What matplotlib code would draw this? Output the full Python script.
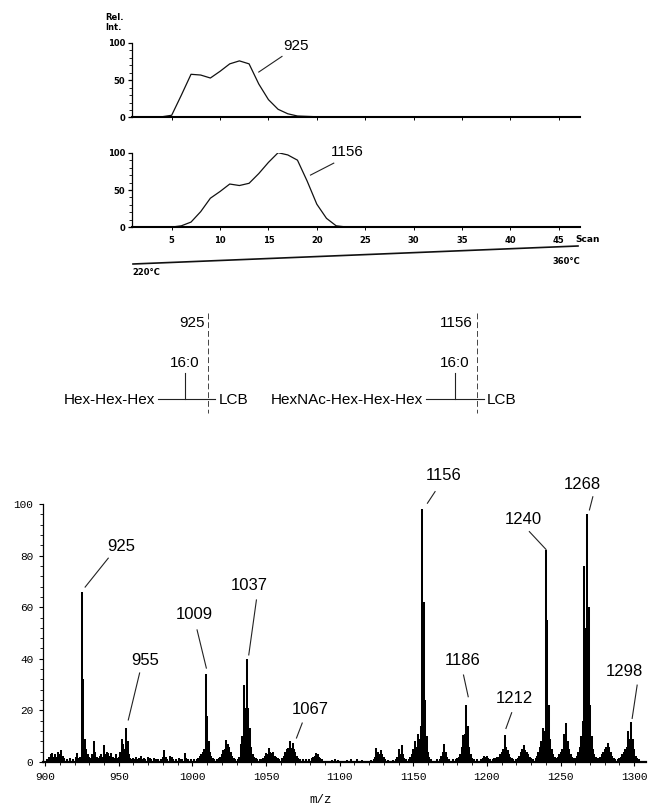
"""Reconstructed ion chromatograms, ceramide structures and mass spectrum of a glycolipid."""

import matplotlib

matplotlib.use("Agg")
import matplotlib.pyplot as plt
import numpy as np
from matplotlib.ticker import MultipleLocator

W, H = 649, 805

# --- reconstructed ion chromatograms (scan number vs rel. intensity) ---
SCANS = list(range(1, 48))
RIC_925 = [0.5, 0.5, 0.5, 1, 3, 30, 58, 57, 53, 62,
           72, 76, 72, 45, 24, 11, 5, 2, 1.5, 1,
           1, 0.8, 0.5, 0.5, 0.5, 0.5, 0.5, 0.5, 0.5, 0.5,
           0.5, 0.5, 0.5, 0.5, 0.5, 0.5, 0.5, 0.5, 0.5, 0.5,
           0.5, 0.5, 0.5, 0.5, 0.5, 0.5, 0.5]
RIC_1156 = [0.3, 0.3, 0.3, 0.3, 0.3, 2, 7, 21, 39, 48,
            58, 56, 59, 72, 87, 100, 97, 90, 62, 31,
            12, 2, 0.5, 0.5, 0.5, 0.5, 0.5, 0.5, 0.5, 0.5,
            0.5, 0.5, 0.5, 0.5, 0.5, 0.5, 0.5, 0.5, 0.5, 0.5,
            0.5, 0.5, 0.5, 0.5, 0.5, 0.5, 0.5]
SCAN_TICKS = [5, 10, 15, 20, 25, 30, 35, 40, 45]

# --- mass spectrum: intensity at each integer m/z, 50 per block ---
SPEC_START = 900
INT_900 = [0.5, 1, 0.5, 2, 3, 3.5, 2, 3, 2, 4,
           3, 4.5, 2.5, 1.5, 0.5, 1, 0.5, 1.5, 0.5, 1,
           0.5, 2, 3.5, 1.5, 2, 66, 32, 9, 5, 3,
           2, 1.5, 3, 8, 4, 2, 1.5, 2.5, 3, 2,
           6.5, 3, 4, 3.5, 2.5, 3.5, 2, 1.5, 3, 1.5]
INT_950 = [2, 4, 9, 7, 5, 13, 8, 3, 1.5, 1,
           1.5, 1, 2, 1, 1.5, 2.5, 1, 1.5, 1, 0.5,
           2, 1.5, 1, 0.5, 1.5, 1, 0.5, 1, 0.5, 1,
           2, 4.5, 2, 1, 0.5, 2.5, 2, 1, 0.5, 1,
           0.5, 1.5, 1, 1, 0.5, 3.5, 1.5, 1, 0.5, 1]
INT_1000 = [0.5, 1, 0.5, 1, 1.5, 2.5, 3, 4, 5, 34,
            18, 8, 4, 2.5, 1.5, 1, 0.5, 1, 1.5, 2,
            3, 4.5, 5, 8.5, 7, 6, 4, 2.5, 1.5, 1,
            0.5, 1, 2, 7, 10, 30, 21, 40, 21, 13,
            6, 3, 2, 1.5, 1, 0.5, 1, 1, 1.5, 2.5]
INT_1050 = [3.5, 3, 5.5, 4, 3.5, 4, 2.5, 2, 1.5, 1,
            0.5, 1.5, 2.5, 4, 5, 5.5, 8, 5.5, 7.5, 5,
            4, 2.5, 1.5, 1, 0.5, 1, 0.5, 1, 0.5, 1,
            0.5, 1.5, 2, 2.5, 3.5, 3, 2, 1.5, 1, 0.5,
            0.5, 0.5, 0.5, 0.5, 0.5, 0.8, 0.5, 1, 0.5, 0.8]
INT_1100 = [0.5, 0.5, 0.5, 0.5, 0.5, 0.8, 0.5, 0.5, 1, 0.5,
            0.5, 0.5, 1.2, 0.5, 0.5, 0.8, 0.5, 0.5, 0.5, 0.5,
            0.5, 0.8, 0.5, 1, 2, 5.5, 4, 3, 4.5, 3,
            2, 1, 0.5, 0.8, 0.5, 0.5, 0.8, 0.5, 1, 2,
            5, 3, 6.5, 3, 1.5, 1, 0.5, 1, 2, 3]
INT_1150 = [5, 8, 6, 11, 9, 14, 98, 62, 24, 10,
            4, 2, 1, 0.5, 0.5, 0.5, 1, 0.5, 1, 2.5,
            4, 7, 4, 2, 1, 0.5, 0.5, 1, 0.5, 1,
            1.5, 2, 3, 6, 10.5, 11, 22, 14, 6, 3,
            1.5, 1, 0.5, 1, 0.5, 0.5, 1, 1.5, 2.5, 2]
INT_1200 = [2.5, 1.5, 1, 0.5, 1, 1.5, 1.5, 2, 2, 3,
            4, 5, 10.5, 6, 4.5, 3, 2, 1.5, 1, 0.5,
            1, 1.5, 2.5, 4, 5, 6.5, 4.5, 4, 3, 2,
            1.5, 1, 0.5, 1.5, 2.5, 4, 6, 8, 13, 12,
            82, 55, 22, 9, 5, 3, 2, 1.5, 2, 3]
INT_1250 = [4, 5, 11, 9, 15, 8, 5, 3, 2, 1.5,
            1.5, 2.5, 4, 6, 10, 16, 76, 52, 96, 60,
            22, 10, 5, 3, 2, 1.5, 1.5, 2, 3, 4,
            5, 6, 7.5, 6, 4, 2.5, 1.5, 1, 0.5, 1,
            1.5, 2, 3, 4, 5, 6, 12, 9, 15.5, 9,
            5, 2.5, 1.5, 1, 0.5, 0.5, 0.5]

# labelled peaks: text, leader start, leader end, text centre (data coords)
SPEC_LABELS = [
    ("925", (927.2, 67.8), (942.9, 79.0), (951.7, 83.5)),
    ("955", (956.5, 16.3), (964.2, 34.5), (967.7, 39.5)),
    ("1009", (1009.5, 36.4), (1003.2, 51.2), (1001.4, 57.0)),
    ("1037", (1038.3, 41.5), (1043.5, 62.8), (1038.4, 68.6)),
    ("1067", (1070.7, 9.3), (1074.6, 15.1), (1080.3, 20.3)),
    ("1156", (1159.6, 100.3), (1164.8, 104.8), (1170.4, 111.0)),
    ("1186", (1187.3, 25.3), (1184.1, 33.7), (1183.3, 39.5)),
    ("1212", (1212.9, 13.0), (1216.8, 19.1), (1218.7, 24.6)),
    ("1240", (1240.1, 82.4), (1228.8, 89.3), (1224.8, 93.8)),
    ("1268", (1269.6, 97.7), (1271.9, 102.8), (1265.0, 107.4)),
    ("1298", (1298.6, 16.9), (1302.0, 29.8), (1293.5, 35.0)),
]

SANS = "Liberation Sans"
MONO = "Liberation Mono"

fig = plt.figure(figsize=(W / 100, H / 100), dpi=100)


def add_axes_px(x0, y0, x1, y1):
    ax = fig.add_axes([x0 / W, 1 - y1 / H, (x1 - x0) / W, (y1 - y0) / H])
    ax.set_facecolor("none")
    return ax


# overlay in pixel units for the drawn structures and loose captions
ov = add_axes_px(0, 0, W, H)
ov.set_xlim(0, W)
ov.set_ylim(H, 0)
ov.axis("off")


def chrom_axes(y_top, y_bot, values, label, leader, text_pos, show_labels):
    ax = add_axes_px(132, y_top, 580, y_bot)
    ax.plot(SCANS, values, color="#111111", lw=0.9)
    ax.set_xlim(0.9, 47.2)
    ax.set_ylim(0, 100)
    for s in ("top", "right"):
        ax.spines[s].set_visible(False)
    ax.spines["bottom"].set_linewidth(1.5)
    ax.spines["left"].set_linewidth(0.9)
    ax.set_yticks([0, 50, 100])
    ax.yaxis.set_minor_locator(MultipleLocator(10))
    ax.set_xticks(SCAN_TICKS)
    ax.tick_params(axis="y", which="major", length=3, width=0.9, pad=2, labelsize=6)
    ax.tick_params(axis="y", which="minor", length=2, width=0.6)
    ax.tick_params(axis="x", length=2, width=0.7, pad=4.5, labelsize=6,
                   labelbottom=show_labels)
    for t in ax.get_xticklabels() + ax.get_yticklabels():
        t.set_fontweight("bold")
    (x0, y0), (x1, y1) = leader
    ax.plot([x0, x1], [y0, y1], color="#222222", lw=0.8, clip_on=False)
    ax.text(*text_pos, label, ha="center", va="center", fontsize=11, family=SANS,
            clip_on=False)
    return ax


chrom_axes(43, 117.5, RIC_925, "925", ((14.0, 61), (16.4, 82)), (17.9, 96), False)
chrom_axes(152.7, 227.3, RIC_1156, "1156", ((19.35, 70), (21.75, 86)), (23.2, 100.7), True)

small_bold = dict(fontsize=6, fontweight="bold", family="DejaVu Sans")
ov.text(105, 17, "Rel.", ha="left", va="center", **small_bold)
ov.text(105, 28, "Int.", ha="left", va="center", **small_bold)
ov.text(575, 239, "Scan", ha="left", va="center", fontsize=6.5, fontweight="bold",
        family="DejaVu Sans")
# temperature ramp
ov.plot([133, 578], [264, 246], color="#111111", lw=1.2)
ov.text(132, 268, "220°C", ha="left", va="top", **small_bold)
ov.text(552, 261, "360°C", ha="left", va="center", **small_bold)

# ceramide structures
struct = dict(fontsize=11, family=SANS, va="center")
line_kw = dict(color="#222222", lw=0.8)
dash_kw = dict(color="#444444", lw=0.7, ls=(0, (6, 3)))
for name, x_name_r, x_branch, x_cut, mass in (
    ("Hex-Hex-Hex", 155, 185, 208.3, "925"),
    ("HexNAc-Hex-Hex-Hex", 423, 455, 476.7, "1156"),
):
    ov.text(x_name_r, 400, name, ha="right", **struct)
    ov.plot([x_name_r + 3, x_cut + 7], [398.5, 398.5], **line_kw)
    ov.plot([x_branch, x_branch], [373, 398.5], **line_kw)
    ov.plot([x_cut, x_cut], [313, 413], **dash_kw)
    ov.text(x_branch, 363, "16:0", ha="center", **struct)
    ov.text(x_cut - 4, 323, mass, ha="right", **struct)
    ov.text(x_cut + 10, 400, "LCB", ha="left", **struct)

# mass spectrum
intensity = np.array(INT_900 + INT_950 + INT_1000 + INT_1050 + INT_1100
                     + INT_1150 + INT_1200 + INT_1250)
mz = np.arange(SPEC_START, SPEC_START + len(intensity))

ax = add_axes_px(43, 504, 646, 762)
ax.vlines(mz, 0, intensity, colors="black", lw=1.45)
ax.set_xlim(898.6, 1308)
ax.set_ylim(0, 100)
for s in ("top", "right"):
    ax.spines[s].set_visible(False)
ax.spines["bottom"].set_linewidth(1.6)
ax.spines["left"].set_linewidth(0.9)
ax.xaxis.set_major_locator(MultipleLocator(50))
ax.xaxis.set_minor_locator(MultipleLocator(10))
ax.yaxis.set_major_locator(MultipleLocator(20))
ax.yaxis.set_minor_locator(MultipleLocator(4))
ax.tick_params(which="major", length=3, width=0.8, pad=4, labelsize=8)
ax.tick_params(which="minor", length=2, width=0.6)
for t in ax.get_xticklabels() + ax.get_yticklabels():
    t.set_family(MONO)

for text, (x0, y0), (x1, y1), (tx, ty) in SPEC_LABELS:
    ax.plot([x0, x1], [y0, y1], color="#222222", lw=0.8, clip_on=False)
    ax.text(tx, ty, text, ha="center", va="center", fontsize=12, family=SANS,
            clip_on=False)

ov.text(321, 800, "m/z", ha="center", va="center", fontsize=9, family=MONO)

fig.savefig("out.png", dpi=100)
